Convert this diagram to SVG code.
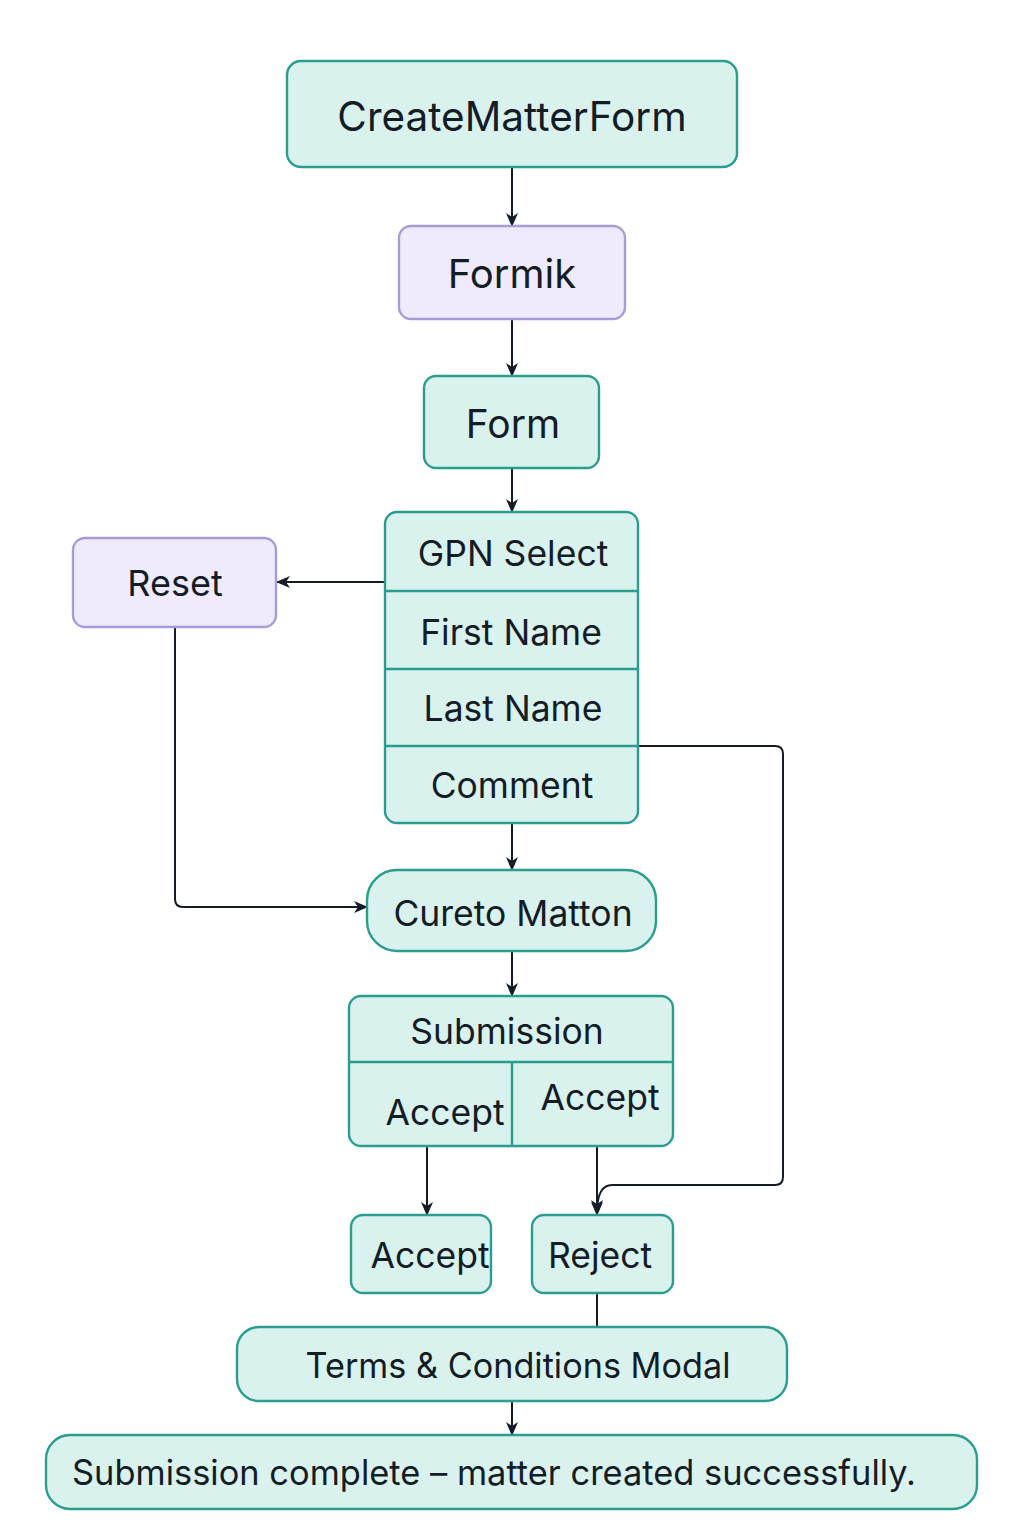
<svg xmlns="http://www.w3.org/2000/svg" width="1024" height="1536" viewBox="0 0 1024 1536">
<defs>
<style>
.t{fill:#d9f2ee;stroke:#2a9d8f;stroke-width:2.4}
.p{fill:#efebfc;stroke:#a89bd8;stroke-width:2.4}
.d{stroke:#2a9d8f;stroke-width:2.4;fill:none}
text{font-family:Inter,"Noto Sans","Liberation Sans",sans-serif;fill:#141c26}
.c{stroke:#141c26;stroke-width:2;fill:none}
</style>
<marker id="a" viewBox="0 0 14 14" refX="13" refY="7" markerWidth="14" markerHeight="14" markerUnits="userSpaceOnUse" orient="auto">
<path d="M0,1 L14,7 L0,13 L4,7 Z" fill="#141c26"/>
</marker>
</defs>
<rect width="1024" height="1536" fill="#ffffff"/>
<g id="connectors">
<line class="c" x1="512" y1="167" x2="512" y2="226" marker-end="url(#a)"/>
<line class="c" x1="512" y1="319" x2="512" y2="376" marker-end="url(#a)"/>
<line class="c" x1="512" y1="468" x2="512" y2="512" marker-end="url(#a)"/>
<line class="c" x1="385" y1="582" x2="277" y2="582" marker-end="url(#a)"/>
<path class="c" d="M175,627 V899 Q175,907 183,907 H367" marker-end="url(#a)"/>
<line class="c" x1="512" y1="823" x2="512" y2="870" marker-end="url(#a)"/>
<line class="c" x1="512" y1="951" x2="512" y2="996" marker-end="url(#a)"/>
<line class="c" x1="427" y1="1146" x2="427" y2="1215" marker-end="url(#a)"/>
<line class="c" x1="597" y1="1146" x2="597" y2="1215" marker-end="url(#a)"/>
<path class="c" d="M638,746 H775 Q783,746 783,754 V1177 Q783,1185 775,1185 H612 Q597,1185 597,1213" marker-end="url(#a)"/>
<line class="c" x1="597" y1="1293" x2="597" y2="1327"/>
<line class="c" x1="512" y1="1401" x2="512" y2="1435" marker-end="url(#a)"/>
</g>
<g id="createMatterForm">
<rect class="t" x="287" y="61" width="450" height="106" rx="14"/>
<text x="512" y="131" font-size="40.5" text-anchor="middle">CreateMatterForm</text>
</g>
<g id="formik">
<rect class="p" x="399" y="226" width="226" height="93" rx="12"/>
<text x="512" y="288" font-size="40" text-anchor="middle">Formik</text>
</g>
<g id="form">
<rect class="t" x="424" y="376" width="175" height="92" rx="12"/>
<text x="513" y="438" font-size="39" text-anchor="middle">Form</text>
</g>
<g id="fields">
<rect class="t" x="385" y="512" width="253" height="311" rx="12"/>
<line class="d" x1="385" y1="591" x2="638" y2="591"/>
<line class="d" x1="385" y1="669" x2="638" y2="669"/>
<line class="d" x1="385" y1="746" x2="638" y2="746"/>
<text x="513" y="566" font-size="35.5" text-anchor="middle">GPN Select</text>
<text x="511" y="645" font-size="35.5" text-anchor="middle">First Name</text>
<text x="513" y="721" font-size="35.5" text-anchor="middle">Last Name</text>
<text x="512" y="798" font-size="35.5" text-anchor="middle">Comment</text>
</g>
<g id="reset">
<rect class="p" x="73" y="538" width="203" height="89" rx="12"/>
<text x="175" y="596" font-size="36" text-anchor="middle">Reset</text>
</g>
<g id="curetoMatton">
<rect class="t" x="367" y="870" width="289" height="81" rx="30"/>
<text x="513" y="926" font-size="35.5" text-anchor="middle">Cureto Matton</text>
</g>
<g id="submission">
<rect class="t" x="349" y="996" width="324" height="150" rx="12"/>
<line class="d" x1="349" y1="1062" x2="673" y2="1062"/>
<line class="d" x1="512" y1="1062" x2="512" y2="1146"/>
<text x="507" y="1044" font-size="35.5" text-anchor="middle">Submission</text>
<text x="445" y="1125" font-size="35.5" text-anchor="middle">Accept</text>
<text x="600" y="1110" font-size="35.5" text-anchor="middle">Accept</text>
</g>
<g id="accept">
<rect class="t" x="351" y="1215" width="140" height="78" rx="12"/>
<text x="430" y="1268" font-size="35.5" text-anchor="middle">Accept</text>
</g>
<g id="reject">
<rect class="t" x="532" y="1215" width="141" height="78" rx="12"/>
<text x="600" y="1268" font-size="35.5" text-anchor="middle">Reject</text>
</g>
<g id="terms">
<rect class="t" x="237" y="1327" width="550" height="74" rx="22"/>
<text x="518" y="1378" font-size="35" text-anchor="middle" textLength="425" lengthAdjust="spacingAndGlyphs">Terms &amp; Conditions Modal</text>
</g>
<g id="complete">
<rect class="t" x="46" y="1435" width="931" height="74" rx="24"/>
<text x="72" y="1485" font-size="35" textLength="844" lengthAdjust="spacingAndGlyphs">Submission complete – matter created successfully.</text>
</g>
</svg>
